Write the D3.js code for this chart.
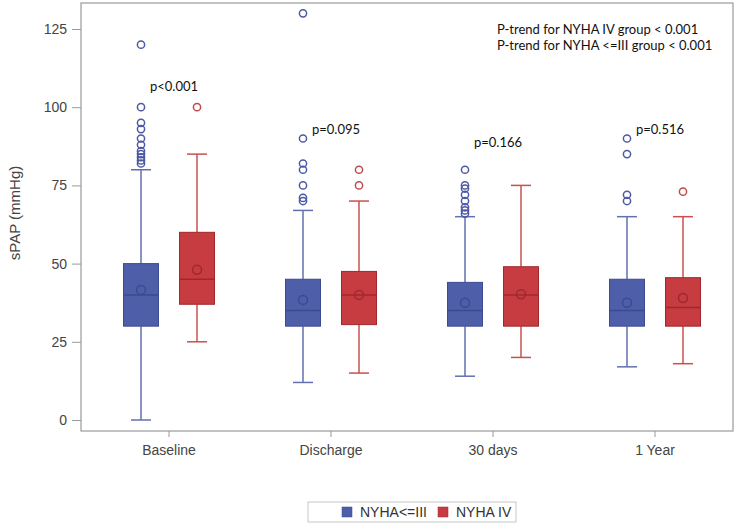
<!DOCTYPE html>
<html>
<head>
<meta charset="utf-8">
<script src="https://cdn.jsdelivr.net/npm/d3@7"></script>
<style>
  body { margin: 0; background: #fff; }
  svg { display: block; }
</style>
</head>
<body>
<svg width="739" height="526"></svg>
<script>
// categories and groups
var categories = ["Baseline", "Discharge", "30 days", "1 Year"];
var groups = ["NYHA<=III", "NYHA IV"];

// NYHA<=III box stats
var blueLow = [0, 12, 14, 17];
var blueQ1 = [30, 30, 30, 30];
var blueMedian = [40, 35, 35, 35];
var blueQ3 = [50, 45, 44, 45];
var blueHigh = [80, 67, 65, 65];
var blueMean = [41.6, 38.4, 37.5, 37.5];
var blueOutliers = [
  [120, 100, 95, 93, 90, 88, 86, 85, 84, 83, 82],
  [130, 90, 82, 80, 75, 71, 70],
  [80, 75, 74, 72, 70, 68, 67, 66],
  [90, 85, 72, 70]
];

// NYHA IV box stats
var redLow = [25, 15, 20, 18];
var redQ1 = [37, 30.5, 30, 30];
var redMedian = [45, 40, 40, 36];
var redQ3 = [60, 47.5, 49, 45.5];
var redHigh = [85, 70, 75, 65];
var redMean = [48, 40, 40.2, 39];
var redOutliers = [[100], [80, 75], [], [73]];

var pLabels = ["p<0.001", "p=0.095", "p=0.166", "p=0.516"];
var yTicks = [0, 25, 50, 75, 100, 125];
var trendLines = ["P-trend for NYHA IV group < 0.001", "P-trend for NYHA <=III group < 0.001"];

var svg = d3.select("svg");
var axisFont = "'Liberation Sans', Arial, sans-serif";
var noteFont = "Lato, sans-serif";

var plot = {left: 81, right: 733, top: 3, bottom: 431};

var x = d3.scaleBand()
  .domain(categories)
  .range([88, 736]);

var xSub = d3.scaleBand()
  .domain(groups)
  .range([-56, 56]);

var y = d3.scaleLinear()
  .domain([0, 125])
  .range([420, 29]);

var styles = {
  "NYHA<=III": {fill: "#4f5ea8", stroke: "#3c4a92", whisker: "#6270b2", dot: "#4d59a3"},
  "NYHA IV": {fill: "#c63c41", stroke: "#a0282d", whisker: "#c9504f", dot: "#c04a4a"}
};

function buildBoxes(g, low, q1, med, q3, high, mean, outs) {
  return categories.map(function(c, i) {
    return {cat: c, group: g, low: low[i], q1: q1[i], med: med[i], q3: q3[i],
            high: high[i], mean: mean[i], outliers: outs[i]};
  });
}

var boxes = buildBoxes("NYHA<=III", blueLow, blueQ1, blueMedian, blueQ3, blueHigh, blueMean, blueOutliers)
  .concat(buildBoxes("NYHA IV", redLow, redQ1, redMedian, redQ3, redHigh, redMean, redOutliers));

// frame
svg.append("rect")
  .attr("x", plot.left)
  .attr("y", plot.top)
  .attr("width", plot.right - plot.left)
  .attr("height", plot.bottom - plot.top)
  .attr("fill", "none")
  .attr("stroke", "#9a9a9a")
  .attr("stroke-width", 1.2);

// axes
var yAxis = svg.append("g")
  .attr("transform", `translate(${plot.left}, 0)`)
  .call(d3.axisLeft(y).tickValues(yTicks).tickSize(9).tickPadding(5));
yAxis.select(".domain").remove();
yAxis.selectAll(".tick line").attr("stroke", "#9a9a9a");
yAxis.selectAll(".tick text")
  .attr("fill", "#444")
  .style("font-family", axisFont)
  .style("font-size", "14px");

var xAxis = svg.append("g")
  .attr("transform", `translate(0, ${plot.bottom})`)
  .call(d3.axisBottom(x).tickSize(6).tickPadding(8));
xAxis.select(".domain").remove();
xAxis.selectAll(".tick line").attr("stroke", "#9a9a9a");
xAxis.selectAll(".tick text")
  .attr("fill", "#444")
  .style("font-family", axisFont)
  .style("font-size", "14px");

svg.append("text")
  .attr("transform", `translate(20, 213) rotate(-90)`)
  .attr("text-anchor", "middle")
  .attr("fill", "#444")
  .style("font-family", axisFont)
  .style("font-size", "15px")
  .text("sPAP (mmHg)");

// boxes
var boxW = 35, capW = 20;
var bg = svg.selectAll("g.box")
  .data(boxes)
  .enter().append("g")
  .attr("class", "box")
  .attr("transform", d => `translate(${x(d.cat) + x.bandwidth() / 2 + xSub(d.group) + xSub.bandwidth() / 2}, 0)`);

bg.append("line")
  .attr("x1", 0).attr("x2", 0)
  .attr("y1", d => y(d.low)).attr("y2", d => y(d.q1))
  .attr("stroke", d => styles[d.group].whisker).attr("stroke-width", 1.5);
bg.append("line")
  .attr("x1", 0).attr("x2", 0)
  .attr("y1", d => y(d.q3)).attr("y2", d => y(d.high))
  .attr("stroke", d => styles[d.group].whisker).attr("stroke-width", 1.5);
bg.append("line")
  .attr("x1", -capW / 2).attr("x2", capW / 2)
  .attr("y1", d => y(d.low)).attr("y2", d => y(d.low))
  .attr("stroke", d => styles[d.group].whisker).attr("stroke-width", 1.5);
bg.append("line")
  .attr("x1", -capW / 2).attr("x2", capW / 2)
  .attr("y1", d => y(d.high)).attr("y2", d => y(d.high))
  .attr("stroke", d => styles[d.group].whisker).attr("stroke-width", 1.5);

bg.append("rect")
  .attr("x", -boxW / 2)
  .attr("width", boxW)
  .attr("y", d => y(d.q3))
  .attr("height", d => y(d.q1) - y(d.q3))
  .attr("fill", d => styles[d.group].fill)
  .attr("stroke", d => styles[d.group].stroke)
  .attr("stroke-width", 1);

bg.append("line")
  .attr("x1", -boxW / 2).attr("x2", boxW / 2)
  .attr("y1", d => y(d.med)).attr("y2", d => y(d.med))
  .attr("stroke", d => styles[d.group].stroke).attr("stroke-width", 1.5);

bg.append("circle")
  .attr("cx", 0)
  .attr("cy", d => y(d.mean))
  .attr("r", 4.5)
  .attr("fill", "none")
  .attr("stroke", d => styles[d.group].stroke)
  .attr("stroke-width", 1.5);

bg.selectAll("circle.out")
  .data(d => d.outliers.map(v => ({v: v, group: d.group})))
  .enter().append("circle")
  .attr("class", "out")
  .attr("cx", 0)
  .attr("cy", d => y(d.v))
  .attr("r", 3.6)
  .attr("fill", "none")
  .attr("stroke", d => styles[d.group].dot)
  .attr("stroke-width", 1.5);

// p-value labels, placed just right of the NYHA<=III box
var pLevel = [106.5, 93, 88.7, 93];
svg.selectAll("text.pval")
  .data(pLabels)
  .enter().append("text")
  .attr("class", "pval")
  .attr("x", (d, i) => x(categories[i]) + x.bandwidth() / 2 + xSub(groups[0]) + xSub.bandwidth() / 2 + 9)
  .attr("y", (d, i) => y(pLevel[i]))
  .attr("dy", "0.35em")
  .attr("fill", "#111")
  .style("font-family", noteFont)
  .style("font-size", "13px")
  .text(d => d);

svg.selectAll("text.trend")
  .data(trendLines)
  .enter().append("text")
  .attr("class", "trend")
  .attr("x", 497)
  .attr("y", (d, i) => 29 + i * 16)
  .attr("dy", "0.35em")
  .attr("fill", "#111")
  .style("font-family", noteFont)
  .style("font-size", "13px")
  .text(d => d);

// legend
var legend = svg.append("g");
legend.append("rect")
  .attr("x", 308).attr("y", 502)
  .attr("width", 208).attr("height", 20)
  .attr("fill", "#fff")
  .attr("stroke", "#c8c8c8");
var legendX = [342, 438];
var li = legend.selectAll("g.item")
  .data(groups)
  .enter().append("g")
  .attr("transform", (d, i) => `translate(${legendX[i]}, 507)`);
li.append("rect")
  .attr("width", 10).attr("height", 10)
  .attr("fill", d => styles[d].fill)
  .attr("stroke", d => styles[d].stroke)
  .attr("stroke-width", 0.5);
li.append("text")
  .attr("x", 18).attr("y", 5)
  .attr("dy", "0.35em")
  .attr("fill", "#333")
  .style("font-family", axisFont)
  .style("font-size", "14px")
  .text(d => d);
</script>
</body>
</html>
